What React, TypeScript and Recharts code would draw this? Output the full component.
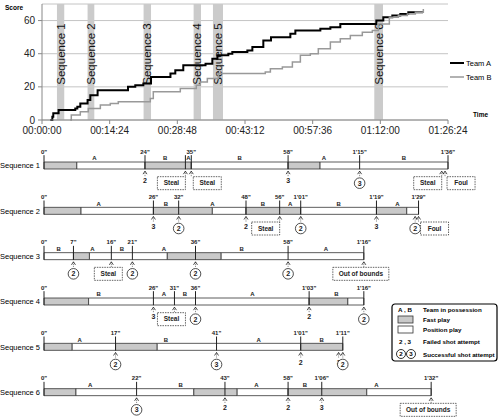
import React from "react";
import {
  LineChart, Line, XAxis, YAxis, CartesianGrid, ReferenceArea, Legend,
  ComposedChart, Bar, Cell, Scatter,
} from "recharts";

const FONT = '"Liberation Sans", Arial, sans-serif';
const INK = "#222";
const FAST = "#c9c9c9";
const POS = "#ffffff";

// ---------- top panel: running score over game time (seconds) ----------
const teamATime = [106, 132, 144, 212, 425, 451, 489, 582, 617, 710, 1098, 1191, 1294, 1392, 1640, 1702, 1804, 2088, 2175, 2240, 2379, 2430, 2622, 2686, 2826, 2924, 3171, 3235, 3554, 3682, 3809, 4269, 4358, 4473, 4575, 4677, 4865];
const teamAScore = [0, 2, 4, 6, 7, 8, 10, 12, 15, 18, 20, 21, 22, 26, 28, 30, 33, 34, 37, 39, 40, 41, 42, 44, 48, 50, 52, 54, 55, 56, 58, 60, 62, 63, 64, 65, 65];
const teamBTime = [361, 374, 489, 591, 745, 872, 974, 1383, 1421, 1766, 1970, 2022, 2111, 2251, 2851, 2916, 3069, 3197, 3299, 3426, 3528, 3682, 3809, 3937, 4090, 4218, 4294, 4435, 4550, 4665, 4767, 4869];
const teamBScore = [0, 3, 5, 7, 9, 10, 11, 13, 17, 19, 21, 23, 25, 28, 29, 31, 32, 35, 39, 40, 43, 47, 49, 51, 53, 54, 58, 62, 63, 64, 65, 67];
const timeTicks = [0, 864, 1728, 2592, 3456, 4320, 5184];
const scoreTicks = [0, 20, 40, 60];

const seqNames = ["Sequence 1", "Sequence 2", "Sequence 3", "Sequence 4", "Sequence 5", "Sequence 6"];
const seqFrom = [191, 582, 1297, 1936, 2183, 4243];
const seqTo = [284, 668, 1392, 2030, 2311, 4354];

// ---------- bottom panel: the six sequences (seconds from sequence start) ----------
// play phases: [start, end, F = fast play / P = position play]
const seq1Phases = [[0, 7.8, "F"], [7.8, 24, "P"], [24, 35, "F"], [35, 58, "P"], [58, 65.6, "F"], [65.6, 96, "P"]];
const seq2Phases = [[0, 8.8, "F"], [8.8, 26, "P"], [26, 40, "F"], [40, 48, "P"], [48, 61, "F"], [61, 79, "P"], [79, 86.2, "F"], [86.2, 89, "P"]];
const seq3Phases = [[0, 7, "P"], [7, 10.8, "F"], [10.8, 29.3, "P"], [29.3, 42.1, "F"], [42.1, 76, "P"]];
const seq4Phases = [[0, 10.6, "F"], [10.6, 63, "P"], [63, 72.2, "F"], [72.2, 76, "P"]];
const seq5Phases = [[0, 6.7, "F"], [6.7, 17, "P"], [17, 26.9, "F"], [26.9, 61, "P"], [61, 71, "F"]];
const seq6Phases = [[0, 7.6, "F"], [7.6, 35.6, "P"], [35.6, 45.9, "F"], [45.9, 58, "P"], [58, 76.7, "F"], [76.7, 92, "P"]];

// time marks above the bar
const seq1Ticks = [[0, '0"'], [24, '24"'], [33.6, ""], [35, '35"'], [58, '58"'], [75, "1'15\""], [96, "1'36\""]];
const seq2Ticks = [[0, '0"'], [26, '26"'], [32, '32"'], [48, '48"'], [56, '56"'], [61, "1'01\""], [79, "1'19\""], [89, "1'29\""]];
const seq3Ticks = [[0, '0"'], [7, '7"'], [16, '16"'], [21, '21"'], [36, '36"'], [58, '58"'], [76, "1'16\""]];
const seq4Ticks = [[0, '0"'], [26, '26"'], [31, '31"'], [36, '36"'], [63, "1'03\""], [76, "1'16\""]];
const seq5Ticks = [[0, '0"'], [17, '17"'], [41, '41"'], [61, "1'01\""], [71, "1'11\""]];
const seq6Ticks = [[0, '0"'], [22, '22"'], [43, '43"'], [58, '58"'], [66, "1'06\""], [92, "1'32\""]];

// team in possession: [start, end, team]
const seq1Poss = [[0, 24, "A"], [24, 33.6, "B"], [33.6, 35, "A"], [35, 58, "B"], [58, 75, "A"], [75, 96, "B"]];
const seq2Poss = [[0, 26, "A"], [26, 32, "B"], [32, 48, "A"], [48, 56, "B"], [56, 61, "A"], [61, 79, "B"], [79, 89, "A"]];
const seq3Poss = [[0, 7, "B"], [7, 16, "A"], [16, 21, "B"], [21, 36, "A"], [36, 58, "B"], [58, 76, "A"]];
const seq4Poss = [[0, 26, "B"], [26, 31, "A"], [31, 36, "B"], [36, 63, "A"], [63, 76, "B"]];
const seq5Poss = [[0, 17, "A"], [17, 41, "B"], [41, 61, "A"], [61, 71, "B"]];
const seq6Poss = [[0, 22, "A"], [22, 43, "B"], [43, 58, "A"], [58, 66, "B"], [66, 92, "A"]];

// events below the bar: [time, miss | hit | box, text, box side]
const seq1Marks = [[24, "miss", "2"], [33.6, "box", "Steal", "left"], [35, "box", "Steal", "right"], [58, "miss", "3"], [75, "hit", "3"], [94.5, "box", "Steal", "left"], [95.3, "box", "Foul", "right"]];
const seq2Marks = [[26, "miss", "3"], [32, "hit", "2"], [48, "miss", "2"], [56, "box", "Steal", "left"], [61, "hit", "2"], [79, "miss", "3"], [88.2, "hit", "2"], [89, "box", "Foul", "right"]];
const seq3Marks = [[7, "hit", "2"], [16, "box", "Steal", "center"], [21, "hit", "2"], [36, "hit", "2"], [58, "hit", "2"], [76, "box", "Out of bounds", "center"]];
const seq4Marks = [[26, "miss", "3"], [31, "box", "Steal", "center"], [36, "hit", "2"], [63, "miss", "2"], [76, "hit", "2"]];
const seq5Marks = [[17, "hit", "2"], [41, "hit", "3"], [61, "miss", "2"], [70, "miss", "3"], [71, "hit", "2"]];
const seq6Marks = [[22, "hit", "3"], [43, "miss", "2"], [58, "miss", "2"], [66, "miss", "3"], [92, "box", "Out of bounds", "center"]];

const allPhases: any[] = [seq1Phases, seq2Phases, seq3Phases, seq4Phases, seq5Phases, seq6Phases];
const allTicks: any[] = [seq1Ticks, seq2Ticks, seq3Ticks, seq4Ticks, seq5Ticks, seq6Ticks];
const allPoss: any[] = [seq1Poss, seq2Poss, seq3Poss, seq4Poss, seq5Poss, seq6Poss];
const allMarks: any[] = [seq1Marks, seq2Marks, seq3Marks, seq4Marks, seq5Marks, seq6Marks];

const teamAData = teamATime.map((t, i) => ({ t, v: teamAScore[i] }));
const teamBData = teamBTime.map((t, i) => ({ t, v: teamBScore[i] }));

const maxPhases = Math.max(...allPhases.map((p) => p.length));
const barRows = seqNames.map((name, i) => {
  const row: any = { seq: name };
  allPhases[i].forEach(([s, e]: any, j: number) => { row[`d${j}`] = e - s; });
  return row;
});
const tickPts = allTicks.flatMap((list, i) => list.map(([t, label]: any) => ({ t, row: i + 1, label })));
const possPts = allPoss.flatMap((list, i) => list.map(([s, e, team]: any) => ({ t: (s + e) / 2, row: i + 1, team })));
const markPts = allMarks.flatMap((list, i) => list.map(([t, kind, text, side]: any) => ({ t, row: i + 1, kind, text, side })));

const pad = (n: number) => String(n).padStart(2, "0");
const hms = (s: number) => `${pad(Math.floor(s / 3600))}:${pad(Math.floor((s % 3600) / 60))}:${pad(s % 60)}`;

function BandLabel(props: any) {
  const vb = props.viewBox;
  if (!vb) return null;
  const x = vb.x + vb.width / 2;
  const y = vb.y + 50;
  return (
    <text x={x} y={y} transform={`rotate(-90 ${x} ${y})`} textAnchor="middle" dominantBaseline="central"
      fontSize={11.5} fill="#111">{props.text}</text>
  );
}

function ScoreTitle(props: any) {
  const vb = props.viewBox;
  if (!vb) return null;
  return <text x={vb.x + 5} y={vb.y + 6} fontSize={6.5} fontWeight="bold" fill="#000">Score</text>;
}

function TimeTitle(props: any) {
  const vb = props.viewBox;
  if (!vb) return null;
  return <text x={vb.x + vb.width + 25} y={vb.y - 3} fontSize={6.5} fontWeight="bold" fill="#000">Time</text>;
}

function TopLegend(props: any) {
  const items = (props.payload || []) as any[];
  return (
    <svg width={54} height={30} style={{ display: "block" }}>
      {items.map((it, i) => (
        <g key={it.value}>
          <line x1={4} x2={18} y1={8 + i * 14} y2={8 + i * 14} stroke={it.color}
            strokeWidth={i === 0 ? 2 : 1.5} />
          <text x={20} y={10.5 + i * 14} fontSize={7.5} fill="#000" fontFamily={FONT}>{it.value}</text>
        </g>
      ))}
    </svg>
  );
}

function SeqTick(props: any) {
  const { x, y, payload } = props;
  return (
    <text x={x} y={y} textAnchor="end" dominantBaseline="central" fontSize={7.5} fill="#000">{payload.value}</text>
  );
}

function TickShape(props: any) {
  const { cx, cy, payload } = props;
  if (cx == null || cy == null) return null;
  return (
    <g>
      <line x1={cx} x2={cx} y1={cy - 10.5} y2={cy + 3.5} stroke={INK} strokeWidth={1} />
      {payload.label ? (
        <text x={cx} y={cy - 12} textAnchor="middle" fontSize={6} fontWeight="bold" fill={INK}>{payload.label}</text>
      ) : null}
    </g>
  );
}

function PossShape(props: any) {
  const { cx, cy, payload } = props;
  if (cx == null || cy == null) return null;
  return <text x={cx} y={cy - 5.5} textAnchor="middle" fontSize={6} fontWeight="bold" fill={INK}>{payload.team}</text>;
}

function MarkShape(props: any) {
  const { cx, cy, payload } = props;
  if (cx == null || cy == null) return null;
  const { kind, text, side } = payload;
  const arrow = (
    <>
      <polyline points={`${cx - 2},${cy + 8.5} ${cx},${cy + 5.5} ${cx + 2},${cy + 8.5}`} fill="none" stroke={INK} strokeWidth={0.8} />
      <line x1={cx} x2={cx} y1={cy + 5.5} y2={cy + 11} stroke={INK} strokeWidth={0.6} strokeDasharray="1 1" />
    </>
  );
  if (kind === "miss") {
    return (
      <g>{arrow}
        <text x={cx} y={cy + 17.5} textAnchor="middle" fontSize={7} fontWeight="bold" fill={INK}>{text}</text>
      </g>
    );
  }
  if (kind === "hit") {
    return (
      <g>{arrow}
        <circle cx={cx} cy={cy + 17.5} r={5.3} fill="#fff" stroke={INK} strokeWidth={0.8} />
        <text x={cx} y={cy + 20} textAnchor="middle" fontSize={7} fontWeight="bold" fill={INK}>{text}</text>
      </g>
    );
  }
  const w = text.length > 6 ? 56 : 28;
  const bx = side === "left" ? cx - w : side === "right" ? cx + 2 : cx - w / 2 - 3;
  return (
    <g>{arrow}
      <rect x={bx} y={cy + 11} width={w} height={13} fill="#fff" stroke={INK} strokeWidth={0.7} strokeDasharray="1.5 1" />
      <text x={bx + w / 2} y={cy + 19.8} textAnchor="middle" fontSize={6.5} fontWeight="bold" fill={INK}>{text}</text>
    </g>
  );
}

function KeyBox() {
  const t = { fontSize: 6.2, fontWeight: "bold" as const, fill: "#000", fontFamily: FONT };
  return (
    <svg width={108} height={60} style={{ display: "block" }}>
      <rect x={1} y={1} width={105} height={57} rx={3} fill="#fff" stroke="#000" strokeWidth={1.2} />
      <text x={7} y={9} {...t}>A , B</text>
      <text x={32} y={9} {...t}>Team in possession</text>
      <rect x={7} y={13} width={15} height={7} fill={FAST} stroke="#333" strokeWidth={0.8} />
      <text x={32} y={18.5} {...t}>Fast play</text>
      <rect x={7} y={23} width={15} height={7} fill={POS} stroke="#333" strokeWidth={0.8} />
      <text x={32} y={28.5} {...t}>Position play</text>
      <text x={8} y={41} {...t}>2 , 3</text>
      <text x={32} y={41} {...t}>Failed shot attempt</text>
      <circle cx={10} cy={51} r={4.5} fill="#fff" stroke="#000" strokeWidth={0.8} />
      <text x={10} y={53.2} textAnchor="middle" {...t}>2</text>
      <circle cx={20} cy={51} r={4.5} fill="#fff" stroke="#000" strokeWidth={0.8} />
      <text x={20} y={53.2} textAnchor="middle" {...t}>3</text>
      <text x={32} y={53.5} {...t}>Successful shot attempt</text>
    </svg>
  );
}

export default function App() {
  return (
    <div style={{ position: "absolute", left: 0, top: 0, width: 500, height: 419, background: "#fff", fontFamily: FONT }}>
      <div style={{ position: "absolute", left: 0, top: 0 }}>
        <LineChart width={500} height={140} margin={{ top: 4, right: 52, bottom: 0, left: 0 }}>
          <CartesianGrid vertical={false} stroke="#c4c4c4" />
          <XAxis type="number" dataKey="t" domain={[0, 5184]} ticks={timeTicks} tickFormatter={hms}
            height={20} tickSize={4} tickMargin={3} axisLine={{ stroke: "#888" }} tickLine={{ stroke: "#888" }}
            tick={{ fontSize: 10, fill: "#222" }} label={<TimeTitle />} />
          <YAxis domain={[0, 70]} ticks={scoreTicks} width={42} tickSize={4} tickMargin={3}
            axisLine={{ stroke: "#888" }} tickLine={{ stroke: "#888" }} tick={{ fontSize: 10, fill: "#222" }}
            label={<ScoreTitle />} />
          {seqNames.map((name, i) => (
            <ReferenceArea key={name} x1={seqFrom[i]} x2={seqTo[i]} y1={0} y2={70} fill="#cbcbcb" fillOpacity={1}
              stroke="none" label={<BandLabel text={name} />} />
          ))}
          <Line data={teamAData} dataKey="v" name="Team A" type="stepAfter" stroke="#000" strokeWidth={2}
            dot={false} isAnimationActive={false} />
          <Line data={teamBData} dataKey="v" name="Team B" type="stepAfter" stroke="#999" strokeWidth={1.5}
            dot={false} isAnimationActive={false} />
          <Legend content={<TopLegend />} layout="horizontal" verticalAlign="middle" align="center"
            wrapperStyle={{ left: 446, top: 55, width: 54, height: 30 }} />
        </LineChart>
      </div>
      <div style={{ position: "absolute", left: 0, top: 143 }}>
        <ComposedChart layout="vertical" width={500} height={276} data={barRows}
          margin={{ top: 0, right: 52, bottom: 4, left: 0 }}>
          <XAxis type="number" domain={[0, 96]} hide />
          <XAxis xAxisId="ev" type="number" dataKey="t" domain={[0, 96]} hide />
          <YAxis type="category" dataKey="seq" width={44} tickLine={false} axisLine={false} tickSize={2}
            tickMargin={2} tick={<SeqTick />} />
          <YAxis yAxisId="ev" type="number" dataKey="row" domain={[0.5, 6.5]} hide />
          {Array.from({ length: maxPhases }, (_, j) => (
            <Bar key={j} dataKey={`d${j}`} stackId="s" barSize={7} stroke="#333" strokeWidth={0.8}
              isAnimationActive={false}>
              {barRows.map((_, i) => (
                <Cell key={i} fill={allPhases[i][j] && allPhases[i][j][2] === "F" ? FAST : POS} />
              ))}
            </Bar>
          ))}
          <Scatter data={tickPts} xAxisId="ev" yAxisId="ev" shape={(p: any) => <TickShape {...p} />}
            isAnimationActive={false} />
          <Scatter data={possPts} xAxisId="ev" yAxisId="ev" shape={(p: any) => <PossShape {...p} />}
            isAnimationActive={false} />
          <Scatter data={markPts} xAxisId="ev" yAxisId="ev" shape={(p: any) => <MarkShape {...p} />}
            isAnimationActive={false} />
          <Legend content={<KeyBox />} layout="horizontal" verticalAlign="middle" align="center"
            wrapperStyle={{ left: 391, top: 160, width: 108, height: 60 }} />
        </ComposedChart>
      </div>
    </div>
  );
}
